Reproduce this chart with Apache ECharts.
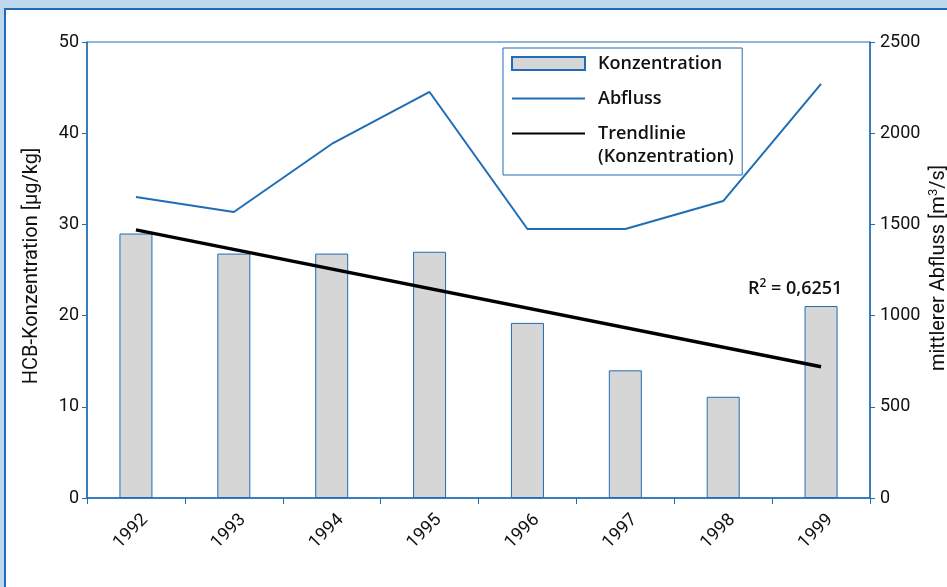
<!DOCTYPE html>
<html>
<head>
<meta charset="utf-8">
<script src="https://cdn.jsdelivr.net/npm/echarts@6/dist/echarts.min.js"></script>
<style>
  html, body { margin: 0; padding: 0; background: #bdd7ee; }
  #frame { position: absolute; left: 4px; top: 8px; width: 950px; height: 590px;
           background: #fff; border-top: 2px solid #1f6db5; border-left: 2px solid #1f6db5; }
  #main { position: absolute; left: 0; top: 0; width: 947px; height: 587px; }
</style>
</head>
<body>
<div id="frame"></div>
<div id="main"></div>
<script>
var years = ['1992', '1993', '1994', '1995', '1996', '1997', '1998', '1999'];
var konzentration = [29, 26.8, 26.8, 27, 19.2, 14, 11.1, 21.05];
var abfluss = [1650, 1568, 1941, 2226, 1475, 1475, 1628, 2270];
// Trendlinie: Endpunkte
var trend = [29.4, null, null, null, null, null, null, 14.4];
var leftTicks = [0, 10, 20, 30, 40, 50];
var rightTicks = [0, 500, 1000, 1500, 2000, 2500];

var blue = '#1f6db5';
var txt = '#111';

var myChart = echarts.init(document.getElementById('main'));

var option = {
    animation: false,
    textStyle: { fontFamily: 'Roboto', color: txt },
    grid: {
        left: 87, right: 77, top: 42, bottom: 89,
        outerBoundsMode: 'none',
        containLabel: false,
        show: true, borderColor: blue, borderWidth: 1, backgroundColor: 'transparent'
    },
    legend: {
        orient: 'vertical',
        left: 503, top: 48,
        padding: [4, 20, 30, 8],
        backgroundColor: '#fff',
        borderColor: blue,
        borderWidth: 1,
        itemWidth: 73,
        itemHeight: 13,
        itemGap: 12,
        textStyle: { fontFamily: 'Open Sans', fontSize: 18, fontWeight: 600, color: txt, lineHeight: 23, padding: [0, 0, 0, 8] },
        data: [
            { name: 'Konzentration', icon: 'rect' },
            { name: 'Abfluss', itemStyle: { opacity: 0 } },
            { name: 'Trendlinie', itemStyle: { opacity: 0 } }
        ]
    },
    xAxis: {
        type: 'category',
        data: years,
        boundaryGap: true,
        axisLine: { lineStyle: { color: blue, width: 1.5 } },
        axisTick: { show: true, length: 6, lineStyle: { color: blue } },
        axisLabel: {
            rotate: 45, color: txt, margin: 10,
            formatter: function (v) { return '{y|' + v + '}'; },
            rich: {
                y: { fontFamily: 'Roboto', fontSize: 18, color: txt, padding: [26, 0, 0, 0] }
            }
        }
    },
    yAxis: [
        {
            type: 'value',
            min: 0, max: 50, interval: 10,
            axisLine: { show: true, lineStyle: { color: blue, width: 1.5 } },
            axisTick: { show: true, length: 5, lineStyle: { color: blue } },
            splitLine: { show: false },
            axisLabel: {
                fontSize: 18, fontFamily: 'Roboto', color: txt, margin: 8,
                formatter: function (v) { return leftTicks.indexOf(v) >= 0 ? v : ''; }
            }
        },
        {
            type: 'value',
            min: 0, max: 2500, interval: 500,
            axisLine: { show: true, lineStyle: { color: blue, width: 1.5 } },
            axisTick: { show: true, length: 5, lineStyle: { color: blue } },
            splitLine: { show: false },
            axisLabel: {
                fontSize: 18, fontFamily: 'Roboto', color: txt, margin: 10,
                formatter: function (v) { return rightTicks.indexOf(v) >= 0 ? v : ''; }
            }
        }
    ],
    series: [
        {
            name: 'Konzentration',
            type: 'bar',
            yAxisIndex: 0,
            barWidth: 33,
            itemStyle: { color: '#d6d6d6', borderColor: blue, borderWidth: 1 },
            data: konzentration
        },
        {
            name: 'Abfluss',
            type: 'line',
            yAxisIndex: 1,
            symbol: 'none',
            lineStyle: { color: blue, width: 2 },
            itemStyle: { color: blue },
            data: abfluss
        },
        {
            name: 'Trendlinie',
            type: 'line',
            yAxisIndex: 0,
            symbol: 'none',
            connectNulls: true,
            lineStyle: { color: '#000', width: 3.5 },
            itemStyle: { color: '#000' },
            data: trend
        }
    ],
    graphic: [
        {
            type: 'text',
            x: 32, y: 266, rotation: Math.PI / 2, z: 100,
            style: { text: 'HCB-Konzentration [µg/kg]', align: 'center', verticalAlign: 'middle',
                     fontFamily: 'Roboto', fontSize: 20, fill: txt }
        },
        {
            type: 'text',
            x: 938, y: 268, rotation: Math.PI / 2, z: 100,
            style: {
                text: '{n|mittlerer Abfluss [m}{s|3}{n|/s]}', align: 'center', verticalAlign: 'middle',
                rich: {
                    n: { fontFamily: 'Roboto', fontSize: 20, fill: txt, verticalAlign: 'bottom' },
                    s: { fontFamily: 'Roboto', fontSize: 13, fill: txt, padding: [0, 0, 9, 0] }
                }
            }
        },
        {
            type: 'text',
            left: 598, top: 148, z: 100,
            style: { text: '(Konzentration)', fontFamily: 'Open Sans', fontSize: 18, fontWeight: 600, fill: txt }
        },
        {
            type: 'text',
            left: 748, top: 278, z: 100,
            style: {
                text: '{b|R}{s|2}{b| = 0,6251}',
                rich: {
                    b: { fontFamily: 'Open Sans', fontSize: 18, fontWeight: 600, fill: txt, verticalAlign: 'bottom' },
                    s: { fontFamily: 'Open Sans', fontSize: 12, fontWeight: 600, fill: txt, padding: [0, 0, 8, 0] }
                }
            }
        }
    ]
};

myChart.setOption(option);
</script>
</body>
</html>
